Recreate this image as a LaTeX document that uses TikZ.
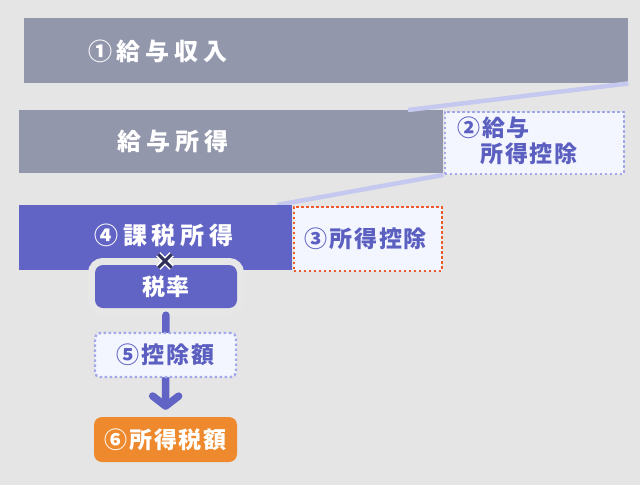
\documentclass[tikz,border=0pt]{standalone}
\usepackage{fontspec}
\setmainfont{Noto Sans CJK JP}
\newfontfamily\jpwide{Noto Sans CJK JP}[LetterSpace=20]
\newfontfamily\jpnarrow{Noto Sans CJK JP}[LetterSpace=8]
\usetikzlibrary{arrows.meta}

\definecolor{pagebg}{HTML}{E5E5E5}
\definecolor{halo}{HTML}{E7E7E8}
\definecolor{bargray}{HTML}{9397AC}
\definecolor{barpurple}{HTML}{6264C5}
\definecolor{boxfill}{HTML}{F3F5FF}
\definecolor{textpurple}{HTML}{5B5FC0}
\definecolor{dotblue}{HTML}{A3A7EC}
\definecolor{dotred}{HTML}{EE5A2B}
\definecolor{wedge}{HTML}{C6C9EF}
\definecolor{taxorange}{HTML}{EE8A2D}
\definecolor{crossnavy}{HTML}{2E3059}

\tikzset{
  bar/.style={rectangle, inner sep=0pt, anchor=north west},
  barlabel/.style={text=white, inner sep=0pt, font=\jpwide\bfseries\fontsize{24}{28}\selectfont},
  smalllabel/.style={text=textpurple, font=\jpnarrow\bfseries\fontsize{23}{26}\selectfont},
  dedbox/.style={rectangle, inner sep=0pt, fill=boxfill, draw=dotblue, line width=2.4pt,
    dash pattern=on 2.4pt off 2.6pt, smalllabel},
  ratebox/.style={rectangle, rounded corners=8pt, fill=barpurple, text=white, inner sep=0pt,
    minimum width=142pt, minimum height=43pt, font=\jpnarrow\bfseries\fontsize{23}{26}\selectfont,
    preaction={draw=halo, line width=14pt}},
  taxbox/.style={rectangle, rounded corners=8pt, fill=taxorange, text=white, inner sep=0pt,
    minimum width=143pt, minimum height=45pt, font=\jpnarrow\bfseries\fontsize{23}{26}\selectfont},
  flowarrow/.style={draw=barpurple, line width=7.5pt, line cap=round,
    -{Straight Barb[length=10pt, width=26pt, line cap=round, line join=round]}},
  wedgeline/.style={draw=wedge, line width=4.5pt}
}

\begin{document}
\begin{tikzpicture}[x=1pt, y=-1pt]
  \fill[pagebg] (0,0) rectangle (640,485);
  \useasboundingbox (0,0) rectangle (640,485);

  % income and salary income
  \node[bar, fill=bargray, minimum width=604pt, minimum height=65pt] (income) at (24,18) {};
  \node[bar, fill=bargray, minimum width=424pt, minimum height=63pt] (salary) at (19,110) {};
  \node[dedbox, anchor=north west, minimum width=179pt, minimum height=62pt] (saldeduct) at (443.5,110.5) {};
  \coordinate (w1) at (408,110);
  \draw[wedgeline] (income.south east) -- (w1);
  \node[barlabel, anchor=west] (incomelbl) at (88,51) {①給与収入};
  \node[barlabel] (salarylbl) at (173,141) {給与所得};
  \node[smalllabel, align=left, anchor=north west, inner sep=0pt] (saldedlbl) at (457,117)
    {②給与\\\hphantom{②}所得控除};

  % taxable income
  \coordinate (w2) at (277,205);
  \draw[wedgeline] (saldeduct.south west) -- (w2);
  \node[bar, fill=barpurple, minimum width=273pt, minimum height=65pt] (taxable) at (19,205) {};
  \node[dedbox, draw=dotred, anchor=north west, minimum width=148pt, minimum height=64pt] (deduct) at (292.5,205.5) {\hspace{-4pt}③所得控除};
  \node[barlabel] (taxablelbl) at (164,235) {④課税所得};

  % rate and result
  \node[ratebox] (rate) at (166,286.5) {税率};
  \node[inner sep=0pt, minimum size=13pt] (times) at (165,261) {};
  \draw[white, line width=6pt] (times.north west) -- (times.south east)
    (times.north east) -- (times.south west);
  \draw[crossnavy, line width=3pt] (times.north west) -- (times.south east)
    (times.north east) -- (times.south west);

  \node[taxbox] (tax) at (165.5,439.5) {⑥所得税額};
  \draw[flowarrow, shorten <=7pt, shorten >=7pt] (rate) -- (tax);
  \node[dedbox, rounded corners=5pt, minimum width=141pt, minimum height=44pt] (amount) at (165.5,355) {⑤控除額};
\end{tikzpicture}
\end{document}
